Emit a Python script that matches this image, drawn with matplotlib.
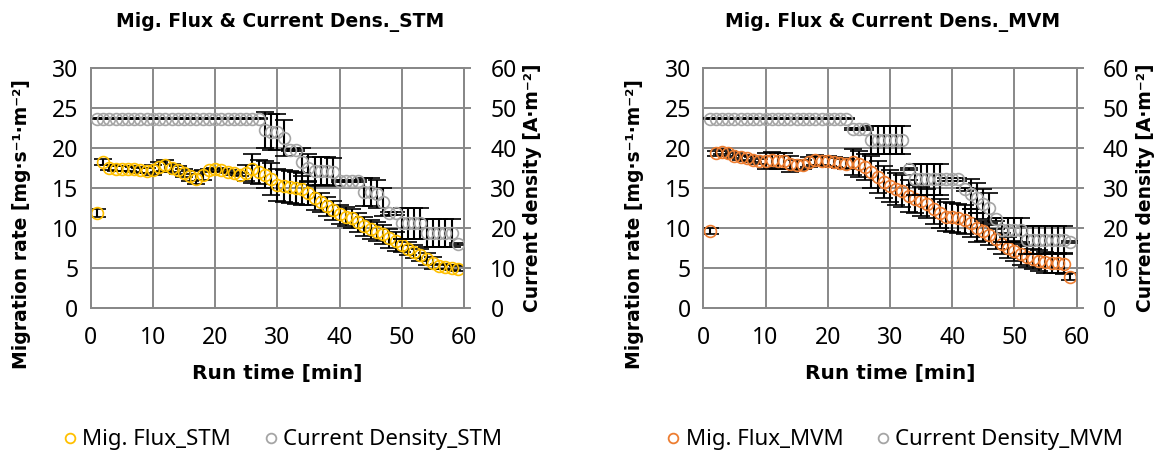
import numpy as np
import matplotlib
matplotlib.use("Agg")
import matplotlib.pyplot as plt
from matplotlib.lines import Line2D

plt.rcParams['font.family'] = ['Noto Sans', 'DejaVu Sans']

# run time [min]
t = list(range(1, 60))

# STM - migration flux [mg/s/m2] and current density [A/m2]
stm_flux = [11.8, 18.2, 17.5, 17.4, 17.4, 17.4, 17.3, 17.2, 17.1, 17.2,
            17.6, 17.8, 17.5, 17.2, 16.8, 16.5, 16.1, 16.6, 17.2, 17.3,
            17.2, 17.0, 16.8, 16.6, 16.9, 17.4, 17.0, 16.6, 16.1, 15.4,
            15.2, 15.1, 15.0, 14.8, 14.3, 13.7, 13.2, 12.7, 12.2, 11.7,
            11.4, 11.2, 10.7, 10.2, 9.8, 9.5, 9.2, 8.7, 8.3, 7.8,
            7.4, 7.0, 6.6, 6.1, 5.6, 5.2, 5.1, 5.0, 4.9]
stm_flux_err = [0.5, 0.4, 0.3, 0.3, 0.3, 0.3, 0.3, 0.3, 0.3, 0.6,
                0.6, 0.7, 0.5, 0.5, 0.5, 0.6, 0.6, 0.6, 0.2, 0.2,
                0.2, 0.2, 0.2, 0.2, 1.0, 1.8, 1.5, 1.7, 2.0, 2.0,
                2.0, 2.0, 2.0, 2.0, 1.5, 1.5, 1.2, 1.2, 1.2, 1.2,
                1.2, 1.2, 1.2, 1.2, 1.2, 1.2, 1.2, 1.2, 1.2, 0.8,
                0.8, 0.8, 0.8, 0.8, 0.8, 0.3, 0.3, 0.3, 0.3]
stm_cd = [47.2] * 27 + [44.5, 44.0, 44.0, 42.5, 39.4, 39.4, 36.5, 35.0, 34.2, 34.2,
                        34.2, 34.0, 31.7, 31.7, 31.7, 31.7, 29.0, 29.0, 28.5, 26.5,
                        23.6, 23.6, 21.1, 21.1, 21.1, 21.1, 18.6, 18.6, 18.6, 18.6,
                        18.6, 15.9]
stm_cd_err = [0.15] * 27 + [4.5, 4.5, 4.5, 4.5, 0.3, 0.3, 3.5, 3.5, 3.5, 3.5,
                            3.5, 3.5, 0.3, 0.3, 0.3, 0.3, 3.5, 3.5, 3.5, 3.5,
                            0.3, 0.3, 3.8, 3.8, 3.8, 3.8, 3.5, 3.5, 3.5, 3.5,
                            3.5, 0.3]

# MVM
mvm_flux = [9.6, 19.3, 19.5, 19.3, 19.0, 18.8, 18.7, 18.5, 18.3, 18.3,
            18.5, 18.3, 18.4, 18.0, 17.8, 17.9, 18.2, 18.5, 18.4, 18.3,
            18.2, 18.1, 18.0, 18.2, 18.0, 17.6, 17.0, 16.3, 15.7, 15.2,
            14.9, 14.6, 14.0, 13.6, 13.3, 13.0, 12.3, 11.8, 11.4, 11.3,
            11.2, 11.0, 10.6, 10.0, 9.6, 9.1, 8.6, 8.0, 7.5, 7.1,
            6.7, 6.4, 6.1, 5.9, 5.7, 5.6, 5.6, 5.5, 3.9]
mvm_flux_err = [0.4, 0.3, 0.3, 0.3, 0.3, 0.3, 0.3, 0.3, 0.3, 1.0,
                1.0, 1.0, 1.0, 1.0, 0.6, 0.6, 0.6, 0.6, 0.6, 0.6,
                0.6, 0.6, 0.6, 1.6, 1.6, 1.6, 2.0, 2.0, 2.0, 2.0,
                2.0, 2.0, 2.0, 1.8, 1.8, 1.8, 1.8, 1.8, 1.8, 1.8,
                1.8, 1.8, 1.8, 1.8, 1.3, 1.3, 1.3, 1.3, 1.3, 1.3,
                1.3, 1.3, 1.3, 1.3, 1.3, 1.3, 1.3, 1.3, 0.4]
mvm_cd = [47.3] * 23 + [44.6, 44.6, 44.6, 41.9, 41.9, 41.9, 41.9, 41.9, 41.9, 34.7,
                        32.1, 32.1, 32.1, 32.1, 32.1, 32.1, 32.1, 32.1, 29.6, 28.5,
                        27.5, 26.0, 25.0, 22.1, 19.4, 19.4, 19.4, 19.4, 16.9, 16.9,
                        16.9, 16.9, 16.9, 16.9, 16.9, 16.5]
mvm_cd_err = [0.15] * 23 + [0.3, 0.3, 0.3, 3.5, 3.5, 3.5, 3.5, 3.5, 3.5, 0.3,
                            3.8, 3.8, 3.8, 3.8, 3.8, 0.3, 0.3, 0.3, 0.3, 3.8,
                            3.8, 3.8, 3.8, 0.3, 3.0, 3.0, 3.0, 3.0, 3.5, 3.5,
                            3.5, 3.5, 3.5, 3.5, 3.5, 0.3]

W, H = 1166, 457
grid_c = "#888888"
gray = "#A5A5A5"
bold_font = ['DejaVu Sans']


def fx(x):
    return x / W


def fy(y):
    return 1 - y / H


fig = plt.figure(figsize=(W / 100, H / 100), dpi=100)


def panel(x0, name, flux, flux_err, cd, cd_err, color):
    ax = fig.add_axes([fx(x0), fy(307.7), 373.3 / W, 240 / H])
    ax2 = ax.twinx()

    ax.errorbar(t, flux, yerr=flux_err, fmt='o', ms=8.5, mfc='none', mec=color, mew=1.2,
                ecolor='black', elinewidth=1.5, capsize=6.5, capthick=1.5, zorder=3)
    ax2.errorbar(t, cd, yerr=cd_err, fmt='o', ms=8.5, mfc='none', mec=gray, mew=1.2,
                 ecolor='black', elinewidth=1.5, capsize=6.5, capthick=1.5, zorder=3)

    ax.set_xlim(0, 60)
    ax.set_ylim(0, 30)
    ax2.set_ylim(0, 60)
    ax.set_xticks(range(0, 61, 10))
    ax.set_yticks(range(0, 31, 5))
    ax2.set_yticks(range(0, 61, 10))
    ax.grid(True, color=grid_c, lw=1.4)
    ax.set_axisbelow(True)
    for a in (ax, ax2):
        for s in a.spines.values():
            s.set_color(grid_c)
            s.set_linewidth(1.4)
    ax.tick_params(axis='both', length=0, labelsize=16.5, colors='black')
    ax.tick_params(axis='x', pad=13)
    ax.tick_params(axis='y', pad=9)
    ax2.tick_params(axis='y', length=5, width=1.4, color=grid_c, labelsize=16.5, pad=14)

    cx = x0 + 186.7
    fig.text(fx(cx + 3), fy(22), "Mig. Flux & Current Dens._" + name, ha='center', va='center',
             fontsize=13.5, fontweight='bold', family=bold_font)
    fig.text(fx(cx), fy(373), "Run time [min]", ha='center', va='center',
             fontsize=14.5, fontweight='bold', family=bold_font)
    fig.text(fx(x0 - 69), fy(224), "Migration rate [mg·s⁻¹·m⁻²]", ha='center', va='center',
             rotation=90, fontsize=13.5, fontweight='bold', family=bold_font)
    fig.text(fx(x0 + 442), fy(188), "Current density [A·m⁻²]", ha='center', va='center',
             rotation=90, fontsize=13.5, fontweight='bold', family=bold_font)

    handles = [Line2D([], [], ls='none', marker='o', ms=7, mfc='none', mec=color, mew=1.3),
               Line2D([], [], ls='none', marker='o', ms=7, mfc='none', mec=gray, mew=1.3)]
    fig.legend(handles, ["Mig. Flux_" + name, "Current Density_" + name],
               loc='center', bbox_to_anchor=(fx(cx + 5), fy(440)), ncol=2, frameon=False,
               fontsize=16, handlelength=0.6, handletextpad=0.25, columnspacing=1.5)


panel(90.7, "STM", stm_flux, stm_flux_err, stm_cd, stm_cd_err, "#FFC000")
panel(703.3, "MVM", mvm_flux, mvm_flux_err, mvm_cd, mvm_cd_err, "#ED7D31")

fig.savefig("out.png", dpi=100)
